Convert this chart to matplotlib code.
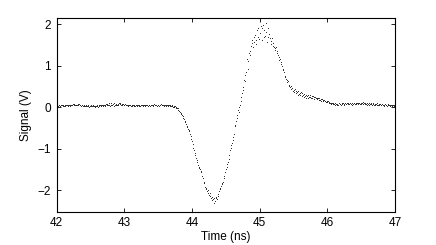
import numpy as np
import matplotlib
matplotlib.use('Agg')
import matplotlib.pyplot as plt

plt.rcParams['font.family'] = ['Liberation Sans', 'DejaVu Sans']

# sampled signal, 0.01 ns step from 42.00 ns
pre = [
    0.03, 0.04, 0.02, 0.05, 0.04, 0.03, 0.05, 0.04, 0.06, 0.03,
    0.04, 0.02, 0.05, 0.03, 0.04, 0.06, 0.03, 0.05, 0.04, 0.03,
    0.05, 0.04, 0.06, 0.05, 0.07, 0.05, 0.08, 0.06, 0.05, 0.04,
    0.06, 0.08, 0.05, 0.07, 0.04, 0.06, 0.03, 0.05, 0.04, 0.02,
    0.03, 0.04, 0.02, 0.03, 0.05, 0.02, 0.04, 0.03, 0.01, 0.03,
    0.02, 0.04, 0.03, 0.05, 0.02, 0.03, 0.01, 0.03, 0.02, 0.04,
    0.03, 0.01, 0.04, 0.02, 0.05, 0.03, 0.06, 0.04, 0.03, 0.05,
    0.04, 0.06, 0.03, 0.07, 0.05, 0.08, 0.04, 0.09, 0.05, 0.03,
    0.06, 0.10, 0.04, 0.08, 0.03, 0.09, 0.05, 0.07, 0.04, 0.06,
    0.08, 0.05, 0.10, 0.07, 0.09, 0.06, 0.08, 0.05, 0.07, 0.06,
    0.05, 0.07, 0.04, 0.06, 0.05, 0.03, 0.05, 0.04, 0.06, 0.04,
    0.03, 0.05, 0.02, 0.04, 0.03, 0.05, 0.02, 0.04, 0.03, 0.05,
    0.04, 0.02, 0.05, 0.03, 0.04, 0.06, 0.04, 0.03, 0.05, 0.04,
    0.05, 0.03, 0.06, 0.04, 0.05, 0.03, 0.04, 0.06, 0.03, 0.05,
    0.04, 0.06, 0.03, 0.05, 0.07, 0.04, 0.06, 0.05, 0.03, 0.04,
    0.05, 0.03, 0.06, 0.04, 0.07, 0.05, 0.04, 0.06, 0.03, 0.05,
    0.04, 0.05, 0.03, 0.06, 0.04, 0.03, 0.05, 0.02, 0.04, 0.03,
    0.02, 0.04, 0.01, 0.03, 0.00, 0.02, -0.01, 0.01, -0.02, -0.03,
]
dip = [
    -0.06, -0.09, -0.11, -0.13, -0.16, -0.19, -0.21, -0.25, -0.29, -0.33,
    -0.37, -0.41, -0.46, -0.49, -0.52, -0.56, -0.58, -0.64, -0.69, -0.76,
    -0.82, -0.90, -0.98, -1.03, -1.10, -1.16, -1.22, -1.27, -1.33, -1.40,
    -1.44, -1.47, -1.50, -1.56, -1.53, -1.65, -1.72, -1.80, -1.84, -1.92,
    -1.95, -1.98, -2.02, -2.00, -2.08, -2.12, -2.06, -2.14, -2.20, -2.17,
    -2.25, -2.21, -2.32, -2.18, -2.26, -2.20, -2.16, -2.22, -2.10, -2.13,
    -2.03, -1.96, -1.98, -1.90, -1.86, -1.84, -1.80, -1.72, -1.66, -1.56,
    -1.50, -1.44, -1.38, -1.32, -1.24, -1.15, -1.04, -0.99, -0.92, -0.86,
    -0.80, -0.72, -0.64, -0.43, -0.46, -0.33, -0.27, -0.20, -0.07, -0.12,
]
peak = [
    0.00, 0.05, 0.15, 0.24, 0.34, 0.41, 0.48, 0.65, 0.62, 0.78,
    0.84, 1.17, 1.12, 0.92, 1.30, 1.36, 1.25, 1.48, 1.61, 1.55,
    1.45, 1.68, 1.58, 1.74, 1.52, 1.62, 1.85, 1.70, 1.90, 1.64,
    2.10, 1.78, 1.95, 1.62, 1.90, 1.98, 1.69, 1.85, 1.72, 2.02,
    1.81, 1.58, 1.92, 1.70, 1.76, 1.66, 1.60, 1.52, 1.66, 1.48,
    1.55, 1.46, 1.42, 1.38, 1.44, 1.30, 1.35, 1.26, 1.22, 1.14,
    1.16, 1.05, 1.09, 0.98, 0.92, 0.89, 0.84, 0.76, 0.72, 0.68,
    0.65, 0.60, 0.62, 0.54, 0.50, 0.49, 0.52, 0.44, 0.46, 0.40,
]
tail = [
    0.42, 0.36, 0.44, 0.33, 0.39, 0.37, 0.30, 0.40, 0.32, 0.35,
    0.29, 0.36, 0.27, 0.33, 0.29, 0.24, 0.32, 0.26, 0.30, 0.23,
    0.28, 0.22, 0.30, 0.25, 0.24, 0.29, 0.21, 0.27, 0.23, 0.26,
    0.24, 0.20, 0.25, 0.21, 0.23, 0.19, 0.22, 0.17, 0.21, 0.18,
    0.20, 0.16, 0.19, 0.17, 0.15, 0.18, 0.14, 0.16, 0.13, 0.15,
    0.12, 0.14, 0.10, 0.12, 0.09, 0.11, 0.08, 0.10, 0.07, 0.09,
    0.08, 0.06, 0.09, 0.07, 0.05, 0.08, 0.06, 0.09, 0.07, 0.08,
    0.06, 0.09, 0.07, 0.10, 0.08, 0.06, 0.09, 0.07, 0.08, 0.10,
    0.08, 0.11, 0.07, 0.09, 0.10, 0.08, 0.06, 0.09, 0.07, 0.10,
    0.09, 0.07, 0.10, 0.08, 0.11, 0.09, 0.07, 0.10, 0.08, 0.09,
    0.07, 0.10, 0.08, 0.12, 0.09, 0.07, 0.10, 0.08, 0.06, 0.09,
    0.08, 0.06, 0.09, 0.07, 0.10, 0.08, 0.05, 0.07, 0.09, 0.06,
    0.08, 0.05, 0.07, 0.09, 0.06, 0.04, 0.07, 0.05, 0.08, 0.06,
    0.04, 0.07, 0.05, 0.03, 0.06, 0.08, 0.04, 0.06, 0.03, 0.05,
    0.07, 0.04, 0.06, 0.02, 0.05, 0.03, 0.06, 0.04, 0.02, 0.04,
    0.03,
]

signal = np.array(pre + dip + peak + tail)
time = np.linspace(42, 47, len(signal))

fig = plt.figure(figsize=(4.36, 2.45), dpi=100)
ax = fig.add_axes([0.130, 0.136, 0.776, 0.789])

ax.plot(time, signal, linestyle='none', marker='.', markersize=1.4,
        color='#222222', markeredgewidth=0)

ax.set_xlim(42, 47)
ax.set_ylim(-2.52, 2.14)
ax.set_xticks([42, 43, 44, 45, 46, 47])
ax.set_yticks([-2, -1, 0, 1, 2])
ax.set_yticklabels(['\u22122', '\u22121', '0', '1', '2'])
ax.tick_params(direction='in', length=3, width=0.6, top=True, right=True,
               labelsize=8.5, pad=4)
for s in ax.spines.values():
    s.set_linewidth(0.8)

ax.set_xlabel('Time (ns)', fontsize=8.5, labelpad=1)
ax.set_ylabel('Signal (V)', fontsize=8.5, labelpad=4)

fig.savefig('out.png', dpi=100)
